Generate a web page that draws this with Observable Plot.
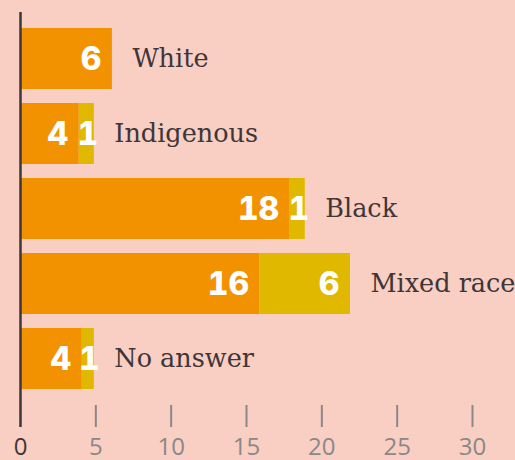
<!DOCTYPE html>
<html><head><meta charset="utf-8">
<script src="https://cdn.jsdelivr.net/npm/d3@7"></script>
<script src="https://cdn.jsdelivr.net/npm/@observablehq/plot@0.6"></script>
<style>
html,body{margin:0;padding:0;background:#f9cec3;}
svg{display:block;}
</style></head>
<body><div id="chart"></div>
<script>
const categories = ["White", "Indigenous", "Black", "Mixed race", "No answer"];
const orangeValues = [6.1, 3.9, 17.9, 15.9, 4.1];
const yellowValues = [0, 1.0, 1.0, 6.0, 0.8];
const tickValues = [5, 10, 15, 20, 25, 30];

const ORANGE = "#f39200", YELLOW = "#e1b800", BG = "#f9cec3", DARK = "#3e3638", GRAY = "#8a8888";

const rows = [];
categories.forEach((c, i) => {
  rows.push({cat: c, series: "a", value: orangeValues[i], x1: 0, x2: orangeValues[i]});
  if (yellowValues[i] > 0) rows.push({cat: c, series: "b", value: yellowValues[i], x1: orangeValues[i], x2: orangeValues[i] + yellowValues[i]});
});
const totals = categories.map((c, i) => ({cat: c, total: orangeValues[i] + yellowValues[i]}));
const wide = rows.filter(d => d.value >= 2);
const narrow = rows.filter(d => d.value < 2);

const chart = Plot.plot({
  width: 515, height: 460,
  marginLeft: 20, marginRight: 43, marginTop: 12, marginBottom: 55,
  style: {background: BG, overflow: "visible"},
  x: {domain: [0, 30], axis: null},
  y: {domain: categories, axis: null, paddingInner: 0.192, paddingOuter: 0.199},
  color: {domain: ["a", "b"], range: [ORANGE, YELLOW]},
  marks: [
    Plot.barX(rows, {y: "cat", x1: "x1", x2: "x2", fill: "series"}),
    Plot.text(wide, {y: "cat", x: "x2", text: d => Math.round(d.value), textAnchor: "end", dx: -11, dy: 1, fill: "white", fontSize: 32, fontWeight: 800, fontFamily: "Inter"}),
    Plot.text(narrow, {y: "cat", x: d => (d.x1 + d.x2) / 2, text: d => Math.round(d.value), textAnchor: "middle", dx: 1, dy: 1, fill: "white", fontSize: 32, fontWeight: 800, fontFamily: "Inter"}),
    Plot.text(totals, {y: "cat", x: "total", text: "cat", textAnchor: "start", dx: 20, fill: DARK, fontSize: 25.5, fontFamily: "DejaVu Serif"}),
    Plot.axisX({ticks: tickValues, tickSize: 22, tickPadding: 10, stroke: GRAY, strokeWidth: 2, fill: GRAY, fontSize: 24, fontFamily: "Open Sans"}),
    Plot.axisX({ticks: [0], tickSize: 22, tickPadding: 10, stroke: "none", fill: DARK, fontSize: 24, fontFamily: "Open Sans"}),
    Plot.ruleX([0], {stroke: DARK, strokeWidth: 2.5, insetBottom: -22})
  ]
});
document.getElementById("chart").appendChild(chart);
</script>
</body></html>
